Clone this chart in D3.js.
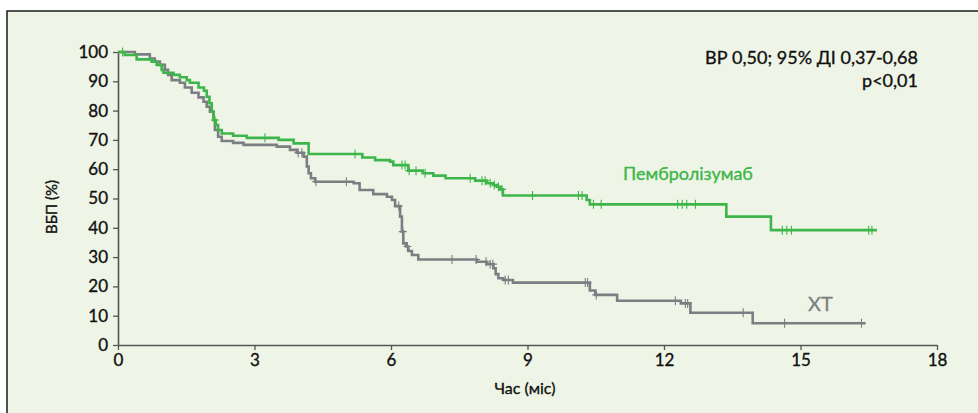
<!DOCTYPE html>
<html><head><meta charset="utf-8">
<script src="https://cdn.jsdelivr.net/npm/d3@7"></script>
<style>
html,body{margin:0;padding:0;background:#fff;}
svg{display:block;font-family:"Lato","Open Sans",sans-serif;}
</style></head>
<body><svg id="c" width="978" height="413"></svg>
<script>
// ---- data ----
const xTicks = [0, 3, 6, 9, 12, 15, 18];
const yTicks = [0, 10, 20, 30, 40, 50, 60, 70, 80, 90, 100];
const xLabel = "Час (міс)";
const yLabel = "ВБП (%)";
const annotation = ["ВР 0,50; 95% ДІ 0,37-0,68", "p<0,01"];
const seriesNames = ["Пембролізумаб", "ХТ"];

// Pembrolizumab: [time (months), survival % after step]
const pembroSteps = [[0,100],[0.15,99.0],[0.41,97.5],[0.74,96.7],[0.85,95.6],[0.96,93.9],[1.0,92.9],[1.22,92.2],[1.36,91.4],[1.51,90.4],[1.58,89.5],[1.77,87.9],[1.89,86.8],[1.95,84.7],[2.01,82.5],[2.06,79.6],[2.1,76.8],[2.15,75.1],[2.2,73.4],[2.28,72.2],[2.53,71.4],[2.83,70.7],[3.53,70.0],[3.86,68.8],[4.19,65.2],[5.37,64.0],[5.65,63.1],[5.98,62.6],[6.05,61.4],[6.38,59.5],[6.7,58.6],[6.93,57.8],[7.2,56.9],[7.85,56.1],[8.1,55.2],[8.25,54.6],[8.33,54.0],[8.4,53.1],[8.46,51.0],[10.3,49.5],[10.37,48.0],[13.37,43.8],[14.35,39.2]];
const pembroEnd = 16.68;
const pembroCensor = [0.1,2.13,3.23,5.21,6.24,6.31,6.4,6.55,6.75,7.74,8.0,8.07,8.18,8.27,8.36,8.44,9.11,10.12,10.2,10.45,10.62,12.3,12.4,12.5,12.69,14.6,14.7,14.8,16.5,16.57];

// Chemotherapy (ХТ)
const chemoSteps = [[0,100],[0.37,99.2],[0.7,97.8],[0.81,96.7],[0.92,95.6],[1.03,93.9],[1.1,92.2],[1.18,90.4],[1.36,89.5],[1.47,87.9],[1.62,86.1],[1.77,84.5],[1.88,83.0],[1.95,81.3],[2.02,79.6],[2.1,76.8],[2.13,73.4],[2.2,71.1],[2.28,69.6],[2.53,69.0],[2.76,68.3],[3.49,67.7],[3.78,66.6],[3.93,65.6],[4.08,64.3],[4.15,60.9],[4.19,58.6],[4.24,56.9],[4.33,55.7],[5.18,55.2],[5.31,52.9],[5.61,51.5],[5.91,50.6],[6.02,49.5],[6.09,47.4],[6.2,43.8],[6.24,38.7],[6.27,34.7],[6.33,33.6],[6.38,32.1],[6.46,30.7],[6.6,29.2],[7.89,28.4],[8.1,27.6],[8.25,26.2],[8.3,24.2],[8.36,22.8],[8.47,22.2],[8.68,21.3],[10.37,18.6],[10.49,17.1],[10.97,15.1],[12.37,14.2],[12.58,11.0],[13.95,7.4]];
const chemoEnd = 16.43;
const chemoCensor = [3.96,4.04,4.35,5.02,6.17,6.26,6.36,7.34,7.87,8.09,8.18,8.24,8.51,8.58,10.27,10.32,10.51,12.25,12.47,12.52,13.74,14.65,16.34];

// ---- drawing ----
const W = 978, H = 413;
const svg = d3.select("#c");
const green = "#3db54a", gray = "#7b7e82", bg = "#eff5e6";

svg.append("rect").attr("x",0).attr("y",0).attr("width",W).attr("height",H).attr("fill","#fff");
svg.append("rect").attr("x",7).attr("y",11).attr("width",W).attr("height",H).attr("fill",bg);
svg.append("path").attr("d",`M7,${H+2}V11H${W+2}`).attr("fill","none").attr("stroke","#1a1a1a").attr("stroke-width",1.5);

const x = d3.scaleLinear().domain([0,18]).range([118,937]);
const y = d3.scaleLinear().domain([0,100]).range([345,52]);

const axColor = "#555";
const gx = svg.append("g").attr("transform",`translate(0,${y(0)})`)
  .call(d3.axisBottom(x).tickValues(xTicks).tickSize(5).tickPadding(4).tickSizeOuter(0));
const gy = svg.append("g").attr("transform",`translate(${x(0)},0)`)
  .call(d3.axisLeft(y).tickValues(yTicks).tickSize(5).tickPadding(5).tickSizeOuter(0));
[gx,gy].forEach(g=>{
  g.select(".domain").attr("stroke",axColor).attr("stroke-width",1.6);
  g.selectAll(".tick line").attr("stroke",axColor).attr("stroke-width",1.3);
  g.selectAll(".tick text").attr("fill","#111").attr("font-size",17).attr("font-family","Lato, sans-serif")
    .attr("stroke","#111").attr("stroke-width",0.35);
});

function stepVal(steps, t){
  let v = steps[0][1];
  for(const s of steps){ if(s[0] <= t) v = s[1]; else break; }
  return v;
}
const line = d3.line().x(d=>x(d[0])).y(d=>y(d[1])).curve(d3.curveStepAfter);

function drawCurve(steps, end, censor, color){
  const pts = steps.concat([[end, steps[steps.length-1][1]]]);
  svg.append("path").attr("d", line(pts)).attr("fill","none").attr("stroke",color)
    .attr("stroke-width",2.6).attr("stroke-linejoin","miter");
  svg.append("g").selectAll("path").data(censor).join("path")
    .attr("d", t=>{const cx=x(t), cy=y(stepVal(steps,t)); return `M${cx},${cy-4.5}V${cy+4.5}M${cx-4},${cy}H${cx+4}`;})
    .attr("stroke",color).attr("stroke-width",1.1).attr("fill","none");
}
drawCurve(chemoSteps, chemoEnd, chemoCensor, gray);
drawCurve(pembroSteps, pembroEnd, pembroCensor, green);

// labels
svg.append("text").attr("x",525).attr("y",394).attr("text-anchor","middle")
  .attr("font-size",16).attr("fill","#111").attr("stroke","#111").attr("stroke-width",0.35).text(xLabel);
svg.append("text").attr("transform","translate(57,207) rotate(-90)").attr("text-anchor","middle")
  .attr("font-size",15).attr("fill","#111").attr("stroke","#111").attr("stroke-width",0.35).text(yLabel);
svg.append("g").selectAll("text").data(annotation).join("text")
  .attr("x",918).attr("y",(d,i)=>64+i*23).attr("text-anchor","end")
  .attr("font-size",18).attr("fill","#111").attr("stroke","#111").attr("stroke-width",0.35).text(d=>d);
svg.append("text").attr("x",623).attr("y",180).attr("font-size",18).attr("fill",green)
  .attr("stroke",green).attr("stroke-width",0.35).text(seriesNames[0]);
svg.append("text").attr("x",808).attr("y",311).attr("font-size",20).attr("fill",gray)
  .attr("stroke",gray).attr("stroke-width",0.3).text(seriesNames[1]);
</script></body></html>
